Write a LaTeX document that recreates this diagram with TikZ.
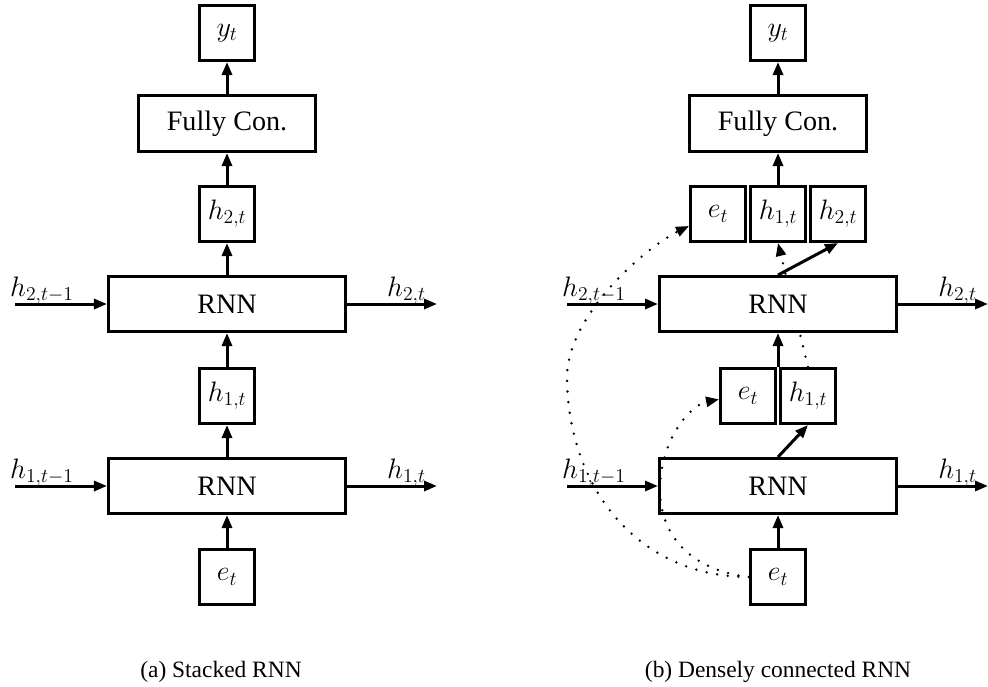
\RequirePackage{fix-cm}
\documentclass[tikz,border=0pt]{standalone}
\usepackage{fontspec}
\setmainfont{Liberation Serif}
\usetikzlibrary{arrows.meta,backgrounds}
\begin{document}
\begin{tikzpicture}[x=0.03cm,y=-0.03cm,
  box/.style={draw, line width=0.09cm, fill=white, inner sep=0pt, font=\fontsize{24}{29}\selectfont},
  sq/.style={box, minimum width=1.65cm, minimum height=1.65cm},
  fcbox/.style={box, minimum width=5.31cm, minimum height=1.68cm},
  rnnbox/.style={box, minimum width=7.11cm, minimum height=1.65cm},
  arr/.style={line width=0.09cm, -{Triangle[length=0.39cm,width=0.3cm]}},
  dotarr/.style={line width=0.08cm, line cap=round, dash pattern=on 0pt off 0.32cm, -{Triangle[length=0.39cm,width=0.3cm]}},
  lab/.style={anchor=base west, inner sep=0pt, font=\fontsize{24}{29}\selectfont},
  captext/.style={anchor=base, inner sep=0pt, font=\fontsize{20}{24}\selectfont}
]
\useasboundingbox (0,0) rectangle (988,686);

% ---------- (a) Stacked RNN ----------
\node[sq] (yL) at (227,33) {$y_t$};
\node[fcbox] (fcL) at (227,123.5) {Fully Con.};
\node[sq] (h2L) at (227,214) {$h_{2,t}$};
\node[rnnbox] (rnn2L) at (227,304) {RNN};
\node[sq] (h1L) at (227,396) {$h_{1,t}$};
\node[rnnbox] (rnn1L) at (227,486) {RNN};
\node[sq] (eL) at (227,577) {$e_t$};

\coordinate (inL2) at (15,304);
\coordinate (outL2) at (437,304);
\coordinate (inL1) at (15,486);
\coordinate (outL1) at (437,486);

\draw[arr] (fcL.north) -- (yL.south);
\draw[arr] (h2L.north) -- (fcL.south);
\draw[arr] (rnn2L.north) -- (h2L.south);
\draw[arr] (h1L.north) -- (rnn2L.south);
\draw[arr] (rnn1L.north) -- (h1L.south);
\draw[arr] (eL.north) -- (rnn1L.south);
\draw[arr] (inL2) -- (rnn2L.west);
\draw[arr] (rnn2L.east) -- (outL2);
\draw[arr] (inL1) -- (rnn1L.west);
\draw[arr] (rnn1L.east) -- (outL1);

\node[lab] (lL2in) at (10,296) {$h_{2,t-1}$};
\node[lab] (lL2out) at (387,296) {$h_{2,t}$};
\node[lab] (lL1in) at (10,478) {$h_{1,t-1}$};
\node[lab] (lL1out) at (387,478) {$h_{1,t}$};

\node[captext] (capA) at (221,677) {(a) Stacked RNN};

% ---------- (b) Densely connected RNN ----------
\node[sq] (yR) at (778,33) {$y_t$};
\node[fcbox] (fcR) at (778,123.5) {Fully Con.};
\node[sq] (eT) at (718,214) {$e_t$};
\node[sq] (h1T) at (778,214) {$h_{1,t}$};
\node[sq] (h2T) at (838,214) {$h_{2,t}$};
\node[rnnbox] (rnn2R) at (778,304) {RNN};
\node[sq] (eM) at (748,396) {$e_t$};
\node[sq] (h1M) at (808,396) {$h_{1,t}$};
\node[rnnbox] (rnn1R) at (778,486) {RNN};
\node[sq] (eB) at (778,577) {$e_t$};

\coordinate (inR2) at (567,304);
\coordinate (outR2) at (988,304);
\coordinate (inR1) at (567,486);
\coordinate (outR1) at (988,486);

\begin{scope}[on background layer]
\draw[dotarr] (h1M.north) -- (h1T.south);
\end{scope}

\draw[arr] (fcR.north) -- (yR.south);
\draw[arr] (h1T.north) -- (fcR.south);
\draw[arr] (rnn2R.north) -- (h2T.south);
\draw[arr] (rnn2R.south |- eM.north) -- (rnn2R.south);
\draw[arr] (rnn1R.north) -- (h1M.south);
\draw[arr] (eB.north) -- (rnn1R.south);
\draw[arr] (inR2) -- (rnn2R.west);
\draw[arr] (rnn2R.east) -- (outR2);
\draw[arr] (inR1) -- (rnn1R.west);
\draw[arr] (rnn1R.east) -- (outR1);

\node[lab] (lR2in) at (562,296) {$h_{2,t-1}$};
\node[lab] (lR2out) at (938,296) {$h_{2,t}$};
\node[lab] (lR1in) at (562,478) {$h_{1,t-1}$};
\node[lab] (lR1out) at (938,478) {$h_{1,t}$};

\draw[dotarr] (eB.west) .. controls (640,577) and (567,490) .. (567,375)
  .. controls (570,310) and (650,245) .. ([yshift=-0.36cm]eT.west);
\draw[dotarr] (eB.west) .. controls (690,570) and (660,535) .. (660,490)
  .. controls (660,440) and (690,405) .. ([yshift=-0.1cm]eM.west);

\node[captext] (capB) at (778,677) {(b) Densely connected RNN};
\end{tikzpicture}
\end{document}
